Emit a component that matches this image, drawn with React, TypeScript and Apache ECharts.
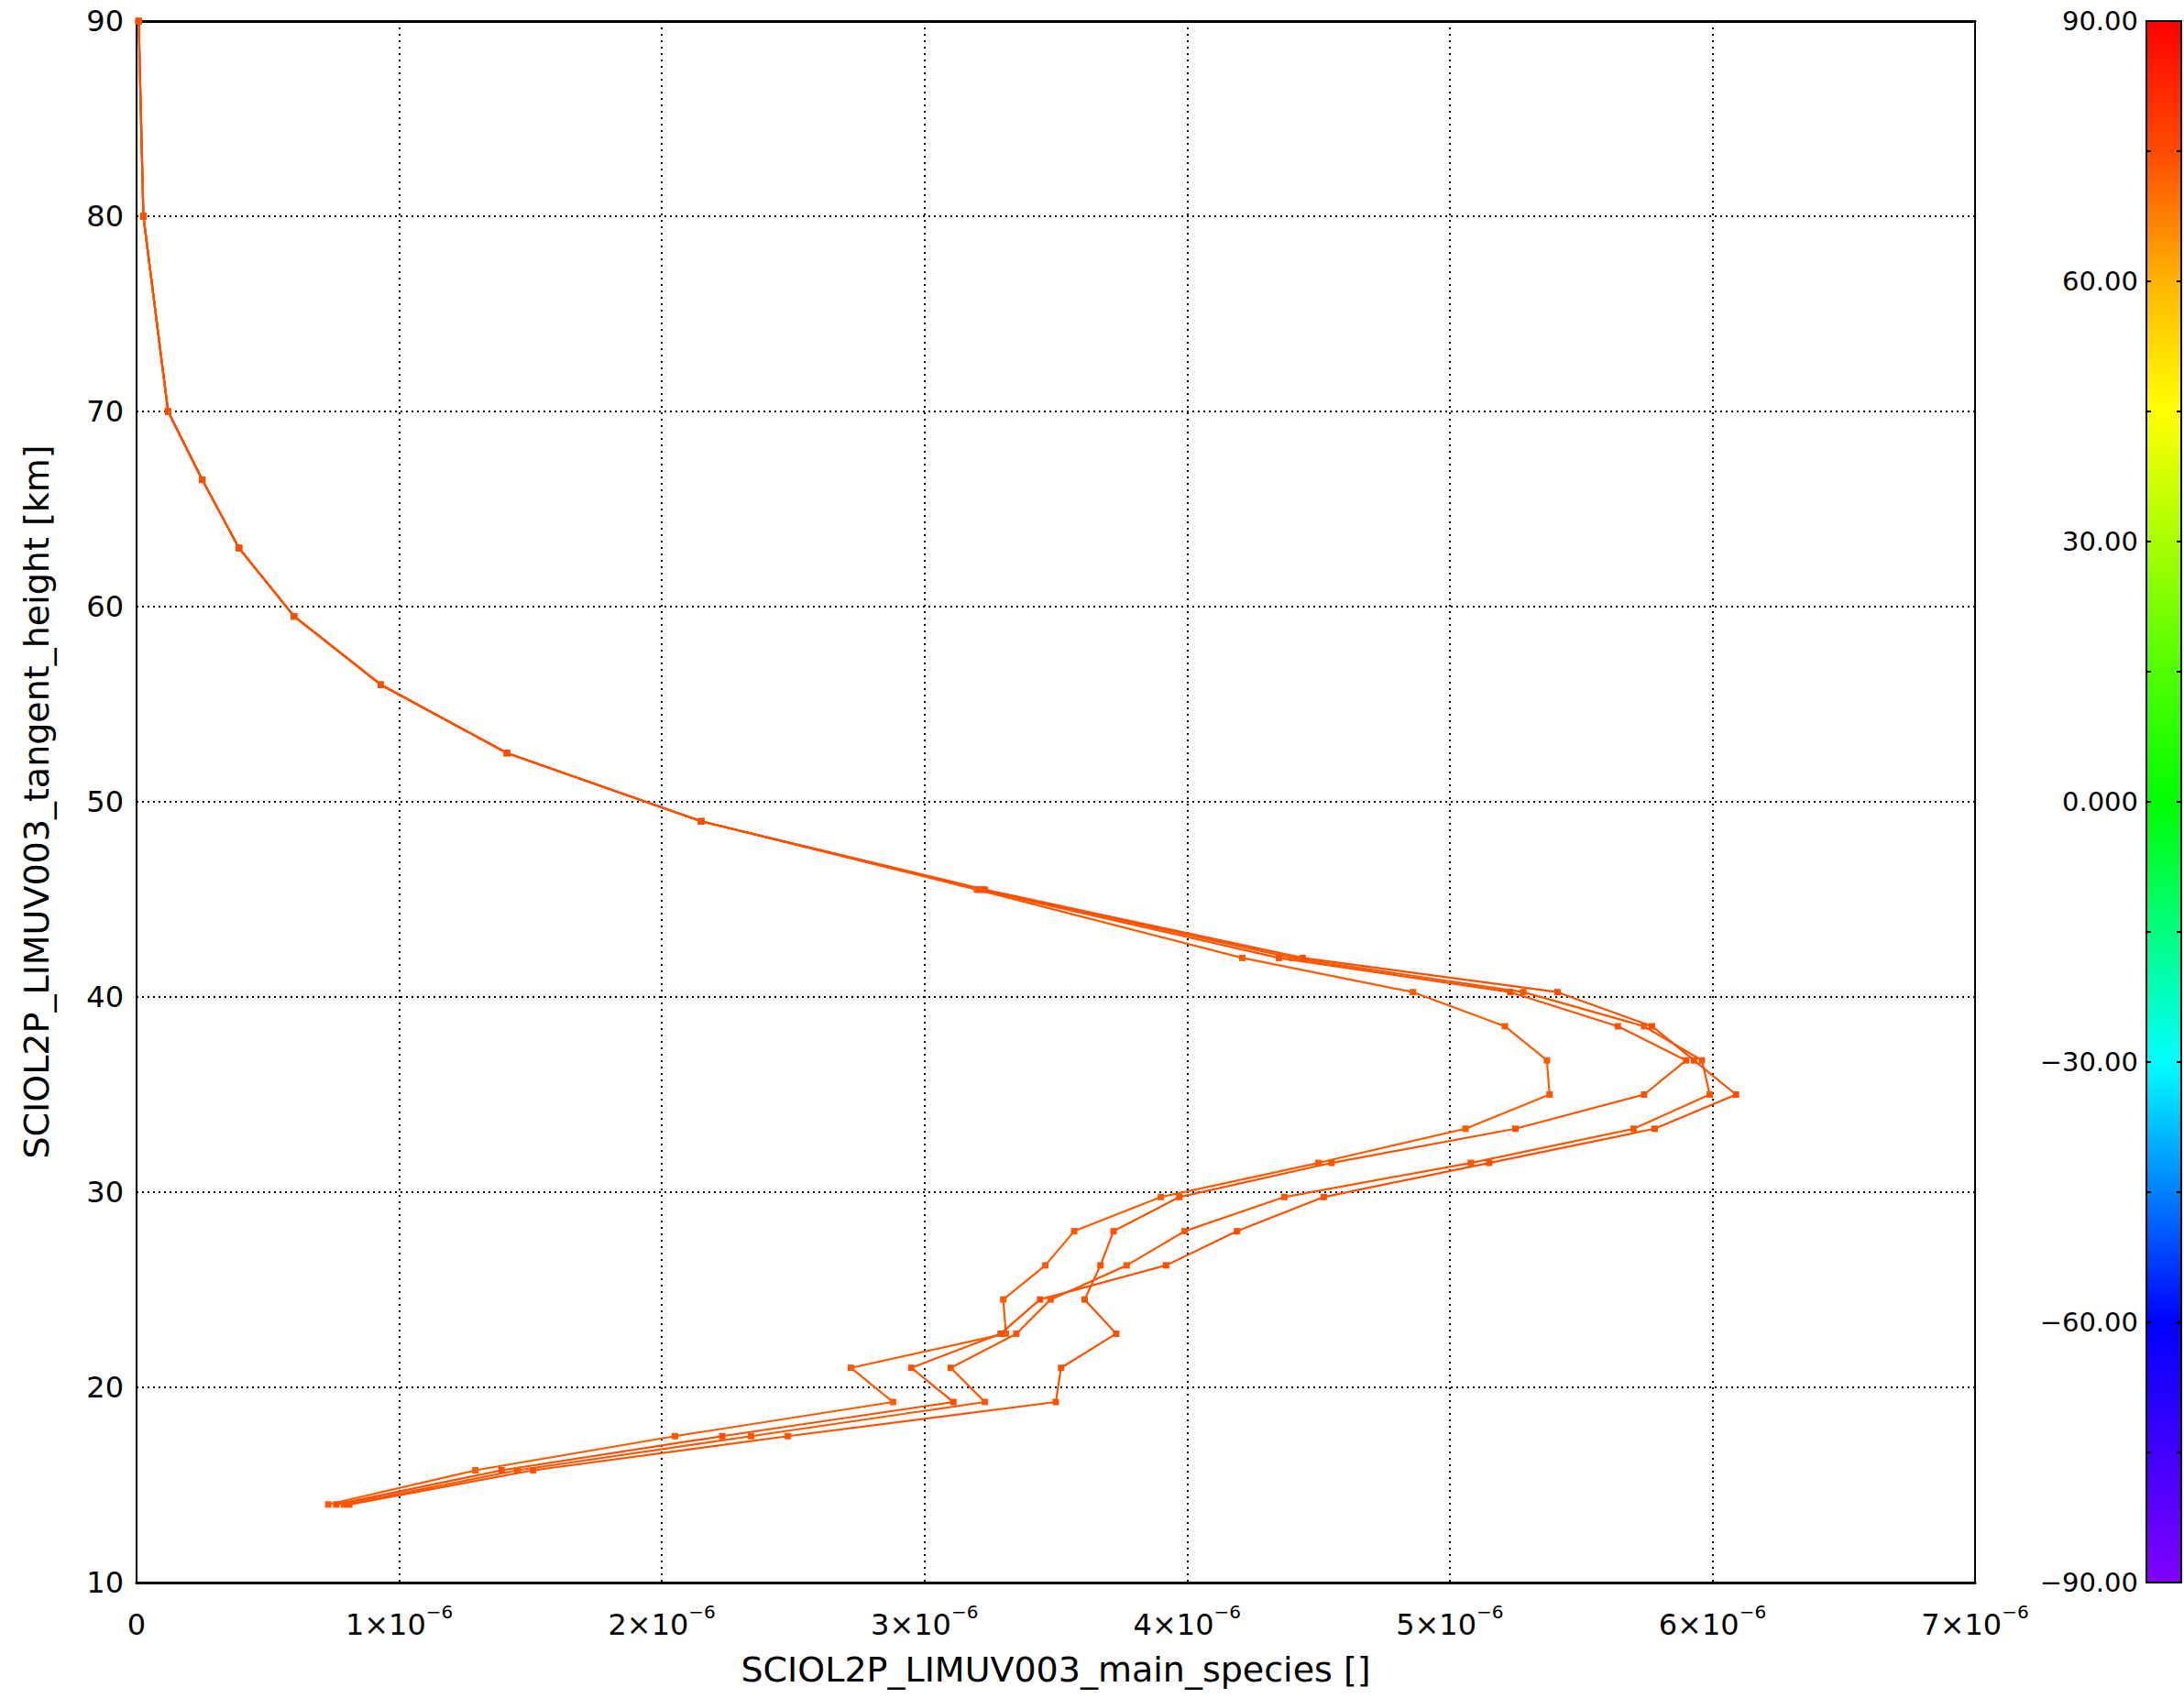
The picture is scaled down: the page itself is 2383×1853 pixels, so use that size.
import React, { useEffect, useRef } from "react";
import * as echarts from "echarts";

// Tangent heights [km] shared by all profiles
const altitudes = [90, 80, 70, 66.5, 63, 59.5, 56, 52.5, 49, 45.5, 42, 40.25, 38.5, 36.75, 35, 33.25, 31.5, 29.75, 28, 26.25, 24.5, 22.75, 21, 19.25, 17.5, 15.75, 14];

// main species values for four profiles
const profileA = [0.008e-6, 0.026e-6, 0.12e-6, 0.25e-6, 0.39e-6, 0.6e-6, 0.93e-6, 1.41e-6, 2.15e-6, 3.2e-6, 4.21e-6, 4.86e-6, 5.21e-6, 5.37e-6, 5.38e-6, 5.06e-6, 4.5e-6, 3.9e-6, 3.57e-6, 3.46e-6, 3.3e-6, 3.31e-6, 2.72e-6, 2.88e-6, 2.05e-6, 1.29e-6, 0.73e-6];
const profileB = [0.008e-6, 0.026e-6, 0.12e-6, 0.25e-6, 0.39e-6, 0.6e-6, 0.93e-6, 1.41e-6, 2.15e-6, 3.21e-6, 4.35e-6, 5.23e-6, 5.64e-6, 5.9e-6, 5.74e-6, 5.25e-6, 4.55e-6, 3.97e-6, 3.72e-6, 3.67e-6, 3.61e-6, 3.73e-6, 3.52e-6, 3.5e-6, 2.48e-6, 1.51e-6, 0.81e-6];
const profileC = [0.008e-6, 0.026e-6, 0.12e-6, 0.25e-6, 0.39e-6, 0.6e-6, 0.93e-6, 1.41e-6, 2.15e-6, 3.22e-6, 4.4e-6, 5.28e-6, 5.74e-6, 5.96e-6, 5.99e-6, 5.7e-6, 5.08e-6, 4.37e-6, 3.99e-6, 3.77e-6, 3.48e-6, 3.35e-6, 3.1e-6, 3.23e-6, 2.34e-6, 1.45e-6, 0.79e-6];
const profileD = [0.008e-6, 0.026e-6, 0.12e-6, 0.25e-6, 0.39e-6, 0.6e-6, 0.93e-6, 1.41e-6, 2.15e-6, 3.23e-6, 4.44e-6, 5.41e-6, 5.77e-6, 5.93e-6, 6.09e-6, 5.78e-6, 5.15e-6, 4.52e-6, 4.19e-6, 3.92e-6, 3.44e-6, 3.29e-6, 2.95e-6, 3.11e-6, 2.23e-6, 1.39e-6, 0.76e-6];
const profiles = [profileA, profileB, profileC, profileD];
const profileColors = ["#ff5a00", "#ff5200", "#ff5600", "#ff4e00"];

// colour bar (latitude) range and palette
const colorbarRange = [-90, 90];
const colorbarStops = [
  { offset: 0.0, color: "#ff0000" },
  { offset: 0.0833, color: "#ff4a00" },
  { offset: 0.1667, color: "#ffb400" },
  { offset: 0.25, color: "#ffff00" },
  { offset: 0.3333, color: "#a8ff00" },
  { offset: 0.4167, color: "#50ff00" },
  { offset: 0.5, color: "#00ff00" },
  { offset: 0.5833, color: "#00ff80" },
  { offset: 0.6667, color: "#00ffff" },
  { offset: 0.75, color: "#0080ff" },
  { offset: 0.8333, color: "#0000ff" },
  { offset: 1.0, color: "#8000ff" },
];

const FONT = "DejaVu Sans";

export default function App() {
  const ref = useRef<HTMLDivElement>(null);
  useEffect(() => {
    if (!ref.current) return;
    const chart = echarts.init(ref.current, undefined, { renderer: "svg" });
    const gradient = new echarts.graphic.LinearGradient(0, 0, 0, 1, colorbarStops);
    const series: any[] = profiles.map((p, i) => ({
      type: "line",
      xAxisIndex: 0,
      yAxisIndex: 0,
      data: p.map((v, k) => [v, altitudes[k]]),
      symbol: "rect",
      symbolSize: 7,
      showSymbol: true,
      lineStyle: { color: profileColors[i], width: 2.2 },
      itemStyle: { color: profileColors[i] },
      z: 5,
    }));
    series.push({
      type: "custom",
      xAxisIndex: 2,
      yAxisIndex: 1,
      data: [[0, colorbarRange[0], 1, colorbarRange[1]]],
      renderItem: (params: any, api: any) => {
        const p1 = api.coord([api.value(0), api.value(3)]);
        const p2 = api.coord([api.value(2), api.value(1)]);
        return {
          type: "rect",
          shape: { x: p1[0], y: p1[1], width: p2[0] - p1[0], height: p2[1] - p1[1] },
          style: { fill: gradient, stroke: "#000", lineWidth: 2 },
        };
      },
      z: 1,
    });
    const xLabel = (v: number) => {
      const n = Math.round(v * 1e6);
      return n === 0 ? "{m|0}" : `{m|${n}×10}{s|−6}`;
    };
    chart.setOption({
      animation: false,
      backgroundColor: "#fff",
      grid: [
        { left: 149, right: 228, top: 23, bottom: 126, show: true, borderColor: "#000", borderWidth: 2 },
        { left: 2342, right: 3, top: 23, bottom: 126 },
      ],
      xAxis: [
        {
          type: "value",
          gridIndex: 0,
          min: 0,
          max: 7e-6,
          interval: 1e-6,
          position: "bottom",
          axisLine: { show: true, lineStyle: { color: "#000", width: 3 } },
          axisTick: { show: false },
          splitLine: { show: true, lineStyle: { color: "#000", width: 2, type: [2, 5] } },
          axisLabel: {
            formatter: xLabel,
            margin: 22,
            color: "#000",
            rich: {
              m: { fontFamily: FONT, fontSize: 32, color: "#000", verticalAlign: "bottom", lineHeight: 40 },
              s: { fontFamily: FONT, fontSize: 20, color: "#000", verticalAlign: "top", lineHeight: 40 },
            },
          },
          name: "SCIOL2P_LIMUV003_main_species []",
          nameLocation: "middle",
          nameGap: 76,
          nameTextStyle: { fontFamily: FONT, fontSize: 38, color: "#000" },
        },
        {
          type: "value",
          gridIndex: 0,
          min: 0,
          max: 7e-6,
          interval: 1e-6,
          position: "top",
          axisLine: { show: true, lineStyle: { color: "#000", width: 3 } },
          axisTick: { show: false },
          axisLabel: { show: false },
          splitLine: { show: false },
        },
        {
          type: "value",
          gridIndex: 1,
          min: 0,
          max: 1,
          show: false,
        },
      ],
      yAxis: [
        {
          type: "value",
          gridIndex: 0,
          min: 10,
          max: 90,
          interval: 10,
          axisLine: { show: true, lineStyle: { color: "#000", width: 2 } },
          axisTick: { show: false },
          splitLine: { show: true, lineStyle: { color: "#000", width: 2, type: [2, 4] } },
          axisLabel: { fontFamily: FONT, fontSize: 32, color: "#000", margin: 14 },
          name: "SCIOL2P_LIMUV003_tangent_height [km]",
          nameLocation: "middle",
          nameGap: 90,
          nameTextStyle: { fontFamily: FONT, fontSize: 38, color: "#000" },
        },
        {
          type: "value",
          gridIndex: 1,
          min: colorbarRange[0],
          max: colorbarRange[1],
          interval: 30,
          position: "left",
          z: 10,
          axisLine: { show: false },
          axisTick: { show: true, inside: true, length: 5, lineStyle: { color: "#000", width: 2 } },
          minorTick: { show: true, splitNumber: 2, length: 5, lineStyle: { color: "#000", width: 2 } },
          splitLine: { show: false },
          axisLabel: {
            fontFamily: FONT,
            fontSize: 29,
            color: "#000",
            margin: 9,
            formatter: (v: number) => (v === 0 ? "0.000" : (v < 0 ? "−" : "") + Math.abs(v).toFixed(2)),
          },
        },
        {
          type: "value",
          gridIndex: 1,
          min: colorbarRange[0],
          max: colorbarRange[1],
          interval: 30,
          position: "right",
          z: 10,
          axisLine: { show: false },
          axisTick: { show: true, inside: true, length: 5, lineStyle: { color: "#000", width: 2 } },
          minorTick: { show: true, splitNumber: 2, length: 5, lineStyle: { color: "#000", width: 2 } },
          splitLine: { show: false },
          axisLabel: { show: false },
        },
      ],
      series,
    });
    return () => chart.dispose();
  }, []);
  return (
    <div
      ref={ref}
      style={{ position: "absolute", left: 0, top: 0, width: 2383, height: 1853, background: "#fff" }}
    />
  );
}
